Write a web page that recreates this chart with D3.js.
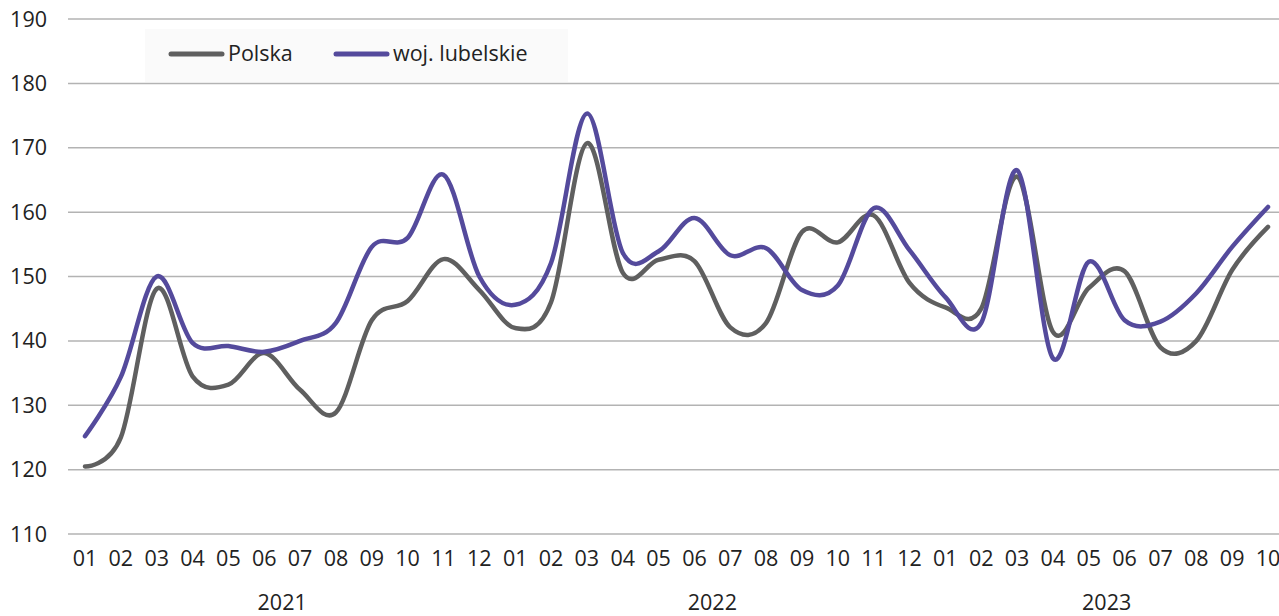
<!DOCTYPE html>
<html><head><meta charset="utf-8">
<script src="https://cdn.jsdelivr.net/npm/d3@7"></script>
<style>body{margin:0;background:#fff;} svg{display:block;font-family:"Open Sans","Noto Sans",sans-serif;}</style>
</head><body>
<svg id="c" width="1279" height="616"></svg>
<script>
const years = ["2021","2022","2023"];
const months = ["01","02","03","04","05","06","07","08","09","10","11","12",
                "01","02","03","04","05","06","07","08","09","10","11","12",
                "01","02","03","04","05","06","07","08","09","10"];
const seriesNames = ["Polska","woj. lubelskie"];
const polska = [120.5,125.0,148.1,134.5,133.2,138.1,132.4,128.9,143.2,146.2,152.7,147.9,
                142.0,146.0,170.7,150.6,152.6,152.4,142.1,142.8,156.9,155.3,159.5,149.0,
                145.2,145.0,165.5,141.4,148.2,150.8,139.0,140.0,151.0,157.7];
const lubelskie = [125.2,134.4,150.0,139.7,139.2,138.3,140.0,142.8,154.6,156.0,165.8,150.0,
                   145.6,152.1,175.3,153.7,153.9,159.1,153.3,154.4,147.9,148.6,160.6,154.1,
                   146.8,142.8,166.5,137.3,152.3,143.2,143.0,147.4,154.6,160.8];
const yTicks = [110,120,130,140,150,160,170,180,190];

const svg = d3.select("#c");
const x = d3.scalePoint().domain(d3.range(months.length)).range([85, 1268]);
const y = d3.scaleLinear().domain([110,190]).range([534, 19]);
const FS = 21.5;

// gridlines
svg.append("g").selectAll("line").data(yTicks).join("line")
  .attr("x1",68).attr("x2",1279)
  .attr("y1",d=>y(d)).attr("y2",d=>y(d))
  .attr("stroke","#b3b3b3").attr("stroke-width",1.5);

// y labels
svg.append("g").selectAll("text").data(yTicks).join("text")
  .attr("x",47).attr("y",d=>y(d)).attr("dy","0.35em")
  .attr("text-anchor","end").attr("font-size",FS).attr("fill","#222")
  .text(d=>d);

// x month labels
svg.append("g").selectAll("text").data(months).join("text")
  .attr("x",(d,i)=>x(i)).attr("y",566)
  .attr("text-anchor","middle").attr("font-size",FS).attr("fill","#222")
  .text(d=>d);

// year labels centered on their month ranges
const yearIdx = [[0,11],[12,23],[24,33]];
svg.append("g").selectAll("text").data(years).join("text")
  .attr("x",(d,i)=>(x(yearIdx[i][0]) + x(yearIdx[i][1]))/2)
  .attr("y",610)
  .attr("text-anchor","middle").attr("font-size",FS).attr("fill","#222")
  .text(d=>d);

const line = d3.line().x((d,i)=>x(i)).y(d=>y(d)).curve(d3.curveCardinal.tension(0));
svg.append("path").datum(polska).attr("d",line)
  .attr("fill","none").attr("stroke","#5f5f5f").attr("stroke-width",4.5).attr("stroke-linecap","round").attr("stroke-linejoin","round");
svg.append("path").datum(lubelskie).attr("d",line)
  .attr("fill","none").attr("stroke","#544a9c").attr("stroke-width",4.5).attr("stroke-linecap","round").attr("stroke-linejoin","round");

// legend
const lg = svg.append("g");
lg.append("rect").attr("x",145).attr("y",29).attr("width",423).attr("height",53).attr("fill","#fafafa");
const legendItems = [{name:seriesNames[0],color:"#5f5f5f",x:171},{name:seriesNames[1],color:"#544a9c",x:336}];
legendItems.forEach(it=>{
  lg.append("line").attr("x1",it.x).attr("x2",it.x+51).attr("y1",54).attr("y2",54)
    .attr("stroke",it.color).attr("stroke-width",5).attr("stroke-linecap","round");
  lg.append("text").attr("x",it.x+57).attr("y",53).attr("dy","0.35em")
    .attr("font-size",FS).attr("fill","#222").text(it.name);
});
</script>
</body></html>
